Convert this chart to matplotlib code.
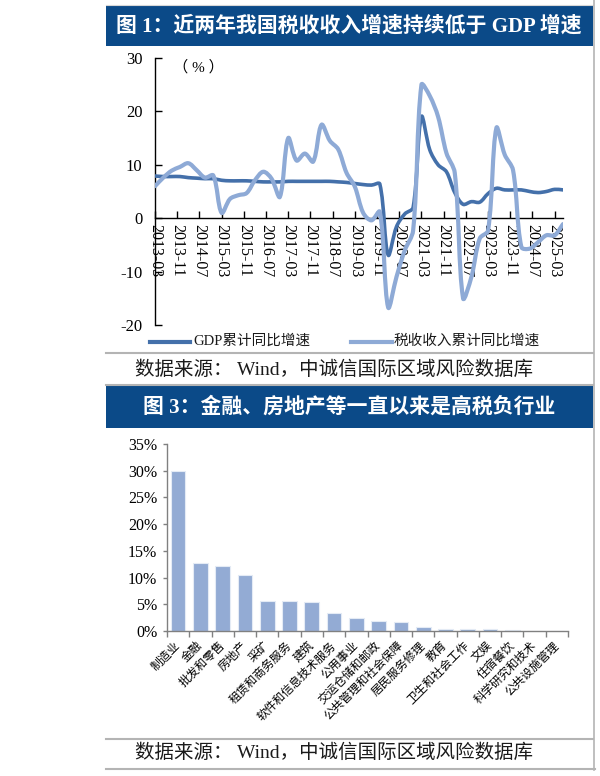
import matplotlib
matplotlib.use('Agg')
import matplotlib.pyplot as plt
import numpy as np
from matplotlib.path import Path
from matplotlib.patches import PathPatch, Rectangle
from matplotlib.lines import Line2D

# ---------------- data ----------------
# Chart 1: quarterly cumulative YoY growth (%), 2013-03 .. 2025-06
quarters = [f"{y}-{m:02d}" for y in range(2013, 2026) for m in (3, 6, 9, 12)][:50]
gdp_growth = [7.9, 7.8, 7.8, 7.8,
              7.6, 7.5, 7.4, 7.4,
              7.1, 7.0, 7.0, 7.0,
              6.9, 6.8, 6.8, 6.8,
              6.9, 6.9, 6.9, 6.9,
              6.9, 6.9, 6.8, 6.7,
              6.5, 6.3, 6.2, 6.4,
              -6.9, -1.6, 0.8, 2.0,
              19.0, 12.8, 10.0, 8.7,
              4.8, 2.6, 3.1, 3.0,
              4.6, 5.6, 5.3, 5.3,
              5.3, 5.0, 4.8, 5.0,
              5.4, 5.3]
tax_growth = [6.0, 7.6, 8.9, 9.6,
              10.3, 9.0, 7.6, 8.0,
              1.0, 3.6, 4.3, 4.7,
              7.1, 8.7, 7.4, 4.0,
              15.0, 10.8, 12.1, 10.6,
              17.5, 14.5, 12.9, 8.5,
              5.9, 1.0, -0.4, 1.2,
              -16.7, -11.0, -6.0, -2.3,
              25.0, 22.9, 19.0, 12.2,
              8.5, -15.0, -11.0, -3.8,
              -2.3, 16.9, 11.9, 9.0,
              -5.4, -5.7, -4.5, -3.2,
              -3.2, -1.1]
x_tick_labels = ["2013-03", "2013-11", "2014-07", "2015-03", "2015-11", "2016-07",
                 "2017-03", "2017-11", "2018-07", "2019-03", "2019-11", "2020-07",
                 "2021-03", "2021-11", "2022-07", "2023-03", "2023-11", "2024-07",
                 "2025-03"]
series_names = ["GDP累计同比增速", "税收收入累计同比增速"]

# Chart 2: tax burden share by industry (%)
industries = ["制造业", "金融", "批发和零售", "房地产", "采矿", "租赁和商务服务", "建筑",
              "软件和信息技术服务", "公用事业", "交运仓储和邮政", "公共管理和社会保障",
              "居民服务修理", "教育", "卫生和社会工作", "文娱", "住宿餐饮",
              "科学研究和技术", "公共设施管理"]
industry_share = [30.0, 12.7, 12.2, 10.4, 5.6, 5.6, 5.4, 3.4, 2.4, 1.9, 1.7,
                  0.75, 0.4, 0.3, 0.3, 0.2, 0.05, 0.05]

title1 = "图 1：近两年我国税收收入增速持续低于 GDP 增速"
title2 = "图 3：金融、房地产等一直以来是高税负行业"
source = "数据来源： Wind，中诚信国际区域风险数据库"

# ---------------- styling ----------------
W, H = 600, 776
SERIF = ['Liberation Serif', 'Noto Sans CJK SC']
CJK = ['Noto Sans CJK SC', 'DejaVu Sans']
BLUE_BAR = '#0b4a88'
GDP_C = '#4470aa'
TAX_C = '#8eaad6'
BAR_C = '#93abd4'
GRAY = '#b4b4b4'


def rect(x0, y0, x1, y1):
    return [x0 / W, 1 - y1 / H, (x1 - x0) / W, (y1 - y0) / H]


def month_index(s):
    y, m = s.split('-')
    return (int(y) - 2013) * 12 + int(m) - 3


def smooth_path(x, y, sx, sy):
    """Excel-like smoothed line: Bezier segments with chord-weighted tangents
    (weights computed in screen scale sx, sy)."""
    pts = np.column_stack([x, y]).astype(float)
    scr = pts * np.array([sx, sy])
    n = len(pts)
    cout = [None] * n
    cin = [None] * n
    for i in range(n):
        ip = max(i - 1, 0)
        inx = min(i + 1, n - 1)
        T = pts[inx] - pts[ip]
        d_in = np.hypot(*(scr[i] - scr[ip]))
        d_out = np.hypot(*(scr[inx] - scr[i]))
        tot = d_in + d_out
        if tot == 0:
            cout[i] = pts[i]
            cin[i] = pts[i]
            continue
        cout[i] = pts[i] + T * (d_out / tot) / 3.0
        cin[i] = pts[i] - T * (d_in / tot) / 3.0
    verts = [pts[0]]
    codes = [Path.MOVETO]
    for i in range(n - 1):
        verts += [cout[i], cin[i + 1], pts[i + 1]]
        codes += [Path.CURVE4] * 3
    return Path(verts, codes)


fig = plt.figure(figsize=(6, 7.76), dpi=100)
fig.patch.set_facecolor('white')

# overlay (pixel coordinates) for page decorations
ov = fig.add_axes([0, 0, 1, 1])
ov.set_xlim(0, W)
ov.set_ylim(H, 0)
ov.axis('off')

ov.plot([106, 593], [4.5, 4.5], color='#d8d8d8', lw=0.8)
ov.add_patch(Rectangle((106, 5), 487, 41, color=BLUE_BAR, lw=0))
ov.text(349, 26, title1, color='white', fontsize=15, family=SERIF,
        weight='bold', ha='center', va='center')
ov.plot([593.5, 593.5], [0, 770], color=GRAY, lw=1.2)

ov.plot([106, 593], [353, 353], color=GRAY, lw=1.5)
ov.text(135, 370, source, fontsize=14, family=SERIF, ha='left', va='center',
        color='#1a1a1a')
ov.plot([106, 593], [385, 385], color=GRAY, lw=1.5)
ov.add_patch(Rectangle((106, 386), 487, 42, color=BLUE_BAR, lw=0))
ov.text(349, 407.5, title2, color='white', fontsize=15, family=SERIF,
        weight='bold', ha='center', va='center')

ov.plot([106, 593], [739, 739], color=GRAY, lw=1.5)
ov.text(135, 753, source, fontsize=14, family=SERIF, ha='left', va='center',
        color='#1a1a1a')
ov.plot([106, 595], [769, 769], color=GRAY, lw=1.5)

# legend for chart 1
ov.add_line(Line2D([150, 190], [341.5, 341.5], color=GDP_C, lw=3))
ov.text(193, 341.5, series_names[0], fontsize=10.5, family=SERIF, ha='left',
        va='center', color='#1a1a1a')
ov.add_line(Line2D([351, 392], [341.5, 341.5], color=TAX_C, lw=3))
ov.text(394, 341.5, series_names[1], fontsize=10.5, family=SERIF, ha='left',
        va='center', color='#1a1a1a')

# ---------------- chart 1 ----------------
ax1 = fig.add_axes(rect(155, 58, 563, 325))
ax1.set_facecolor('none')
xq = [month_index(q) for q in quarters]
ax1.set_xlim(0, xq[-1])
ax1.set_ylim(-20, 30)
sx = (563 - 155) / xq[-1]
sy = (325 - 58) / 50.0
ax1.add_patch(PathPatch(smooth_path(xq, gdp_growth, sx, sy), facecolor='none',
                        edgecolor=GDP_C, lw=2.6, capstyle='round',
                        joinstyle='round', zorder=3))
ax1.add_patch(PathPatch(smooth_path(xq, tax_growth, sx, sy), facecolor='none',
                        edgecolor=TAX_C, lw=3.0, capstyle='round',
                        joinstyle='round', zorder=4))
for s in ('top', 'right'):
    ax1.spines[s].set_visible(False)
ax1.spines['bottom'].set_position(('data', 0))
ax1.spines['bottom'].set_zorder(2)
for s in ('left', 'bottom'):
    ax1.spines[s].set_color('black')
    ax1.spines[s].set_linewidth(1.0)
ax1.set_yticks([-20, -10, 0, 10, 20, 30])
ax1.set_yticklabels(['-20', '-10', '0', '10', '20', '30'])
ax1.set_xticks([month_index(t) for t in x_tick_labels])
ax1.set_xticklabels(x_tick_labels, rotation=270)
ax1.tick_params(axis='y', direction='in', length=5, width=1, pad=9,
                labelsize=12)
ax1.tick_params(axis='x', direction='in', length=5, width=1, pad=4,
                labelsize=11.5)
for lab in ax1.get_xticklabels() + ax1.get_yticklabels():
    lab.set_family(SERIF)
ax1.text(0.045, 0.965, "（ % ）", transform=ax1.transAxes, fontsize=11,
         family=SERIF, ha='left', va='center')

# ---------------- chart 2 ----------------
ax2 = fig.add_axes(rect(167, 444, 568, 631))
ax2.set_facecolor('none')
xpos = np.arange(len(industries))
ax2.bar(xpos, industry_share, width=0.66, color=BAR_C, edgecolor='#e4ebf5',
        linewidth=0.8, zorder=2)
ax2.set_xlim(-0.5, len(industries) - 0.5)
ax2.set_ylim(0, 35)
for s in ('top', 'right'):
    ax2.spines[s].set_visible(False)
for s in ('left', 'bottom'):
    ax2.spines[s].set_color('#808080')
    ax2.spines[s].set_linewidth(1.0)
ax2.set_yticks(range(0, 36, 5))
ax2.set_yticklabels([f"{v}%" for v in range(0, 36, 5)])
ax2.tick_params(axis='y', direction='out', length=3, width=1, color='#808080',
                pad=4, labelsize=11.5)
ax2.set_xticks(xpos)
ax2.set_xticklabels(industries, rotation=45, ha='right', va='center',
                    rotation_mode='anchor')
ax2.set_xticks(np.arange(-0.5, len(industries), 1.0), minor=True)
ax2.tick_params(axis='x', which='major', length=0, pad=9, labelsize=8.5)
ax2.tick_params(axis='x', which='minor', direction='out', length=4, width=1,
                color='#808080')
for lab in ax2.get_yticklabels():
    lab.set_family(SERIF)
for lab in ax2.get_xticklabels():
    lab.set_family(CJK)

fig.savefig('out.png', dpi=100)
